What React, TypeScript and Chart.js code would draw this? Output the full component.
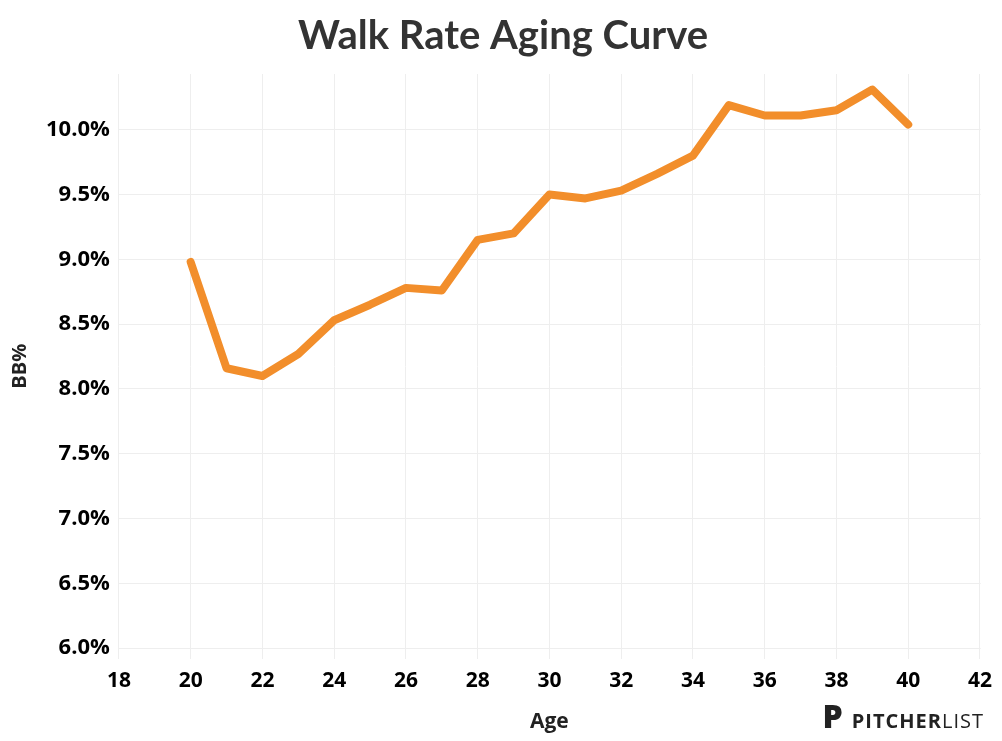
import React, { useEffect, useRef } from "react";
import Chart from "chart.js/auto";

const ages = [20,21,22,23,24,25,26,27,28,29,30,31,32,33,34,35,36,37,38,39,40];
const bbPct = [8.98,8.16,8.10,8.27,8.53,8.65,8.78,8.76,9.15,9.20,9.50,9.47,9.53,9.66,9.80,10.19,10.11,10.11,10.15,10.31,10.04];

export default function App() {
  const ref = useRef<HTMLCanvasElement>(null);
  useEffect(() => {
    const font = { family: "'Open Sans', sans-serif", weight: "bold" as const, size: 21 };
    const chart = new Chart(ref.current!, {
      type: "line",
      data: { datasets: [{ data: ages.map((a, i) => ({ x: a, y: bbPct[i] })), borderColor: "#f28e2b", borderWidth: 8, pointRadius: 0, borderJoinStyle: "round", borderCapStyle: "round" }] },
      options: {
        animation: false, responsive: false,
        layout: { padding: { top: 0, right: 0, left: 4, bottom: 4 } },
        plugins: { legend: { display: false }, tooltip: { enabled: false },
          title: { display: true, text: "Walk Rate Aging Curve", color: "#333", font: { family: "Lato, sans-serif", weight: "bold", size: 40 }, padding: { top: 12, bottom: 14 } } },
        scales: {
          x: { type: "linear", min: 17.97, max: 42.02, afterBuildTicks: (ax: any) => { ax.ticks = [18,20,22,24,26,28,30,32,34,36,38,40,42].map(v => ({ value: v })); },
            ticks: { color: "#000", font, padding: 10 }, grid: { color: "#eee", drawTicks: false }, border: { display: false },
            title: { display: true, text: "Age", color: "#222", font: { ...font, size: 21 }, padding: { top: 6, bottom: 2 } } },
          y: { min: 5.92, max: 10.43, afterBuildTicks: (ax: any) => { ax.ticks = [6,6.5,7,7.5,8,8.5,9,9.5,10].map(v => ({ value: v })); },
            ticks: { color: "#000", font: { ...font, size: 22 }, padding: 8, callback: (v: any) => Number(v).toFixed(1) + "%" }, grid: { color: "#eee", drawTicks: false }, border: { display: false },
            title: { display: true, text: "BB%", color: "#222", font: { ...font, size: 20 }, padding: { bottom: 6 } } },
        },
      },
    });
    return () => chart.destroy();
  }, []);
  return (
    <div style={{ position: "relative", width: 1002, height: 741, margin: -8 }}>
      <canvas ref={ref} width={1002} height={741} />
      <div style={{ position: "absolute", right: 18, bottom: 4, fontFamily: "'Open Sans', sans-serif", fontWeight: "bold", fontSize: 20, color: "#222", letterSpacing: 1 }}>
        <span style={{ fontSize: 32, fontWeight: 900, marginRight: 8 }}>P</span>PITCHER<span style={{ fontWeight: 400 }}>LIST</span>
      </div>
    </div>
  );
}
